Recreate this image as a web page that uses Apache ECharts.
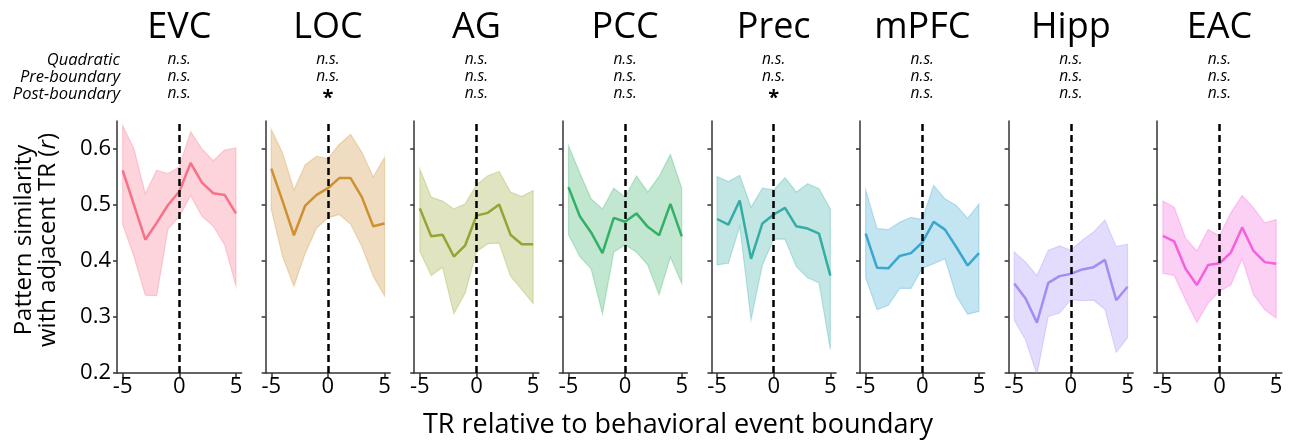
<!DOCTYPE html>
<html>
<head>
<meta charset="utf-8">
<script src="https://cdn.jsdelivr.net/npm/echarts@6/dist/echarts.min.js"></script>
<style>
  html, body { margin: 0; padding: 0; background: #fff; }
  #chart { width: 1302px; height: 442px; }
</style>
</head>
<body>
<div id="chart"></div>
<script>
const regions = ['EVC', 'LOC', 'AG', 'PCC', 'Prec', 'mPFC', 'Hipp', 'EAC'];
const trs = [-5, -4, -3, -2, -1, 0, 1, 2, 3, 4, 5];

// mean pattern similarity per TR, and the band edges
const evcMean  = [0.562, 0.500, 0.438, 0.468, 0.500, 0.524, 0.575, 0.540, 0.521, 0.518, 0.485];
const evcLower = [0.465, 0.408, 0.339, 0.338, 0.457, 0.479, 0.517, 0.480, 0.462, 0.429, 0.356];
const evcUpper = [0.642, 0.600, 0.520, 0.562, 0.556, 0.568, 0.631, 0.600, 0.579, 0.598, 0.602];

const locMean  = [0.565, 0.507, 0.446, 0.499, 0.518, 0.530, 0.548, 0.548, 0.514, 0.462, 0.467];
const locLower = [0.492, 0.408, 0.355, 0.414, 0.459, 0.477, 0.483, 0.466, 0.426, 0.373, 0.338];
const locUpper = [0.635, 0.593, 0.527, 0.572, 0.587, 0.583, 0.608, 0.626, 0.594, 0.550, 0.585];

const agMean  = [0.494, 0.444, 0.447, 0.408, 0.428, 0.481, 0.486, 0.501, 0.447, 0.430, 0.430];
const agLower = [0.417, 0.374, 0.389, 0.306, 0.343, 0.417, 0.431, 0.432, 0.373, 0.349, 0.324];
const agUpper = [0.564, 0.514, 0.507, 0.493, 0.502, 0.536, 0.552, 0.560, 0.523, 0.515, 0.526];

const pccMean  = [0.532, 0.480, 0.451, 0.414, 0.477, 0.470, 0.485, 0.461, 0.446, 0.502, 0.444];
const pccLower = [0.447, 0.408, 0.386, 0.306, 0.416, 0.429, 0.416, 0.393, 0.340, 0.407, 0.360];
const pccUpper = [0.606, 0.557, 0.511, 0.493, 0.530, 0.514, 0.552, 0.523, 0.551, 0.590, 0.530];

const precMean  = [0.475, 0.465, 0.508, 0.404, 0.467, 0.483, 0.495, 0.462, 0.458, 0.449, 0.374];
const precLower = [0.393, 0.396, 0.462, 0.295, 0.393, 0.439, 0.439, 0.390, 0.370, 0.361, 0.242];
const precUpper = [0.551, 0.542, 0.553, 0.496, 0.530, 0.527, 0.549, 0.523, 0.538, 0.529, 0.493];

const mpfcMean  = [0.449, 0.388, 0.387, 0.409, 0.414, 0.433, 0.470, 0.456, 0.425, 0.392, 0.414];
const mpfcLower = [0.370, 0.313, 0.321, 0.351, 0.351, 0.387, 0.395, 0.404, 0.338, 0.305, 0.310];
const mpfcUpper = [0.527, 0.458, 0.456, 0.469, 0.478, 0.474, 0.535, 0.511, 0.499, 0.476, 0.502];

const hippMean  = [0.360, 0.333, 0.290, 0.361, 0.373, 0.377, 0.385, 0.389, 0.402, 0.330, 0.354];
const hippLower = [0.294, 0.259, 0.197, 0.301, 0.307, 0.331, 0.329, 0.330, 0.314, 0.237, 0.263];
const hippUpper = [0.416, 0.398, 0.374, 0.419, 0.427, 0.419, 0.437, 0.452, 0.473, 0.426, 0.430];

const eacMean  = [0.445, 0.435, 0.386, 0.357, 0.393, 0.396, 0.415, 0.460, 0.418, 0.398, 0.395];
const eacLower = [0.378, 0.374, 0.331, 0.290, 0.325, 0.346, 0.357, 0.404, 0.340, 0.313, 0.298];
const eacUpper = [0.507, 0.496, 0.441, 0.418, 0.456, 0.445, 0.486, 0.517, 0.495, 0.468, 0.474];

const means  = [evcMean, locMean, agMean, pccMean, precMean, mpfcMean, hippMean, eacMean];
const lowers = [evcLower, locLower, agLower, pccLower, precLower, mpfcLower, hippLower, eacLower];
const uppers = [evcUpper, locUpper, agUpper, pccUpper, precUpper, mpfcUpper, hippUpper, eacUpper];

// significance rows
const rowNames = ['Quadratic', 'Pre-boundary', 'Post-boundary'];
const quadratic    = ['n.s.', 'n.s.', 'n.s.', 'n.s.', 'n.s.', 'n.s.', 'n.s.', 'n.s.'];
const preBoundary  = ['n.s.', 'n.s.', 'n.s.', 'n.s.', 'n.s.', 'n.s.', 'n.s.', 'n.s.'];
const postBoundary = ['n.s.', '*', 'n.s.', 'n.s.', '*', 'n.s.', 'n.s.', 'n.s.'];

const colors = ['#f77189', '#ce9032', '#97a431', '#32b166', '#36ada4', '#39a7d0', '#a48cf4', '#f561dd'];

const xTicks = [-5, 0, 5];
const yTicks = [0.2, 0.3, 0.4, 0.5, 0.6];

const FONT = '"Open Sans", "DejaVu Sans", sans-serif';
const panelLeft = 117, panelStep = 148.6, panelWidth = 124.6;
const gridTop = 121, gridHeight = 252;

function hexToRgba(hex, a) {
  const n = parseInt(hex.slice(1), 16);
  return 'rgba(' + (n >> 16) + ',' + ((n >> 8) & 255) + ',' + (n & 255) + ',' + a + ')';
}

// whole band as one polygon, drawn once from all rows of the series data
function renderBand(color) {
  return function (params, api) {
    if (params.dataIndexInside !== 0) return null;
    const n = params.dataInsideLength;
    const top = [], bottom = [];
    for (let k = 0; k < n; k++) {
      const t = api.value(0, k);
      top.push(api.coord([t, api.value(2, k)]));
      bottom.push(api.coord([t, api.value(1, k)]));
    }
    const pts = top.concat(bottom.reverse());
    return {
      type: 'polygon',
      shape: { points: pts },
      style: { fill: hexToRgba(color, 0.3), stroke: hexToRgba(color, 0.3), lineWidth: 1.2 }
    };
  };
}

const grids = [], xAxes = [], yAxes = [], series = [], graphics = [];
const axisColor = '#333';

regions.forEach((name, i) => {
  const left = panelLeft + i * panelStep;
  grids.push({ left: left, top: gridTop, width: panelWidth, height: gridHeight });
  xAxes.push({
    type: 'value', gridIndex: i, min: -5.5, max: 5.5,
    axisLine: { onZero: false, lineStyle: { color: axisColor, width: 1.5 } },
    axisTick: { customValues: xTicks, length: 5, lineStyle: { color: axisColor, width: 1.5 } },
    axisLabel: { customValues: xTicks, fontSize: 22, color: '#000', margin: 3, fontFamily: FONT },
    splitLine: { show: false }
  });
  yAxes.push({
    type: 'value', gridIndex: i, min: 0.2, max: 0.65,
    axisLine: { show: true, onZero: false, lineStyle: { color: axisColor, width: 1.5 } },
    axisTick: { show: true, customValues: yTicks, length: 4, lineStyle: { color: axisColor, width: 1.5 } },
    axisLabel: {
      show: i === 0, customValues: yTicks, fontSize: 22, color: '#000', margin: 6, fontFamily: FONT,
      formatter: v => v.toFixed(1)
    },
    splitLine: { show: false }
  });

  const c = colors[i];
  const lo = lowers[i], hi = uppers[i], mu = means[i];
  series.push({
    type: 'custom', xAxisIndex: i, yAxisIndex: i, silent: true, clip: true,
    data: trs.map((t, k) => [t, lo[k], hi[k]]),
    renderItem: renderBand(c),
    z: 1
  });
  series.push({
    type: 'line', xAxisIndex: i, yAxisIndex: i, symbol: 'none', silent: true,
    data: trs.map((t, k) => [t, mu[k]]),
    lineStyle: { color: c, width: 2.5 },
    z: 3,
    markLine: {
      silent: true, symbol: ['none', 'none'], label: { show: false },
      lineStyle: { color: '#000', width: 2.5, type: [7, 4] },
      data: [{ xAxis: 0 }]
    }
  });

  // region title and significance marks, centred on TR 0
  const cx = left + panelWidth / 2;
  graphics.push({
    type: 'text', x: cx, y: 28,
    style: { text: name, fontSize: 36, fontFamily: FONT, fill: '#000', textAlign: 'center', textVerticalAlign: 'middle' }
  });
  [quadratic, preBoundary, postBoundary].forEach((row, r) => {
    const star = row[i] === '*';
    graphics.push({
      type: 'text', x: cx, y: 60 + r * 17 + (star ? 4 : 0),
      style: {
        text: row[i], fontSize: star ? 20 : 15.5, fontStyle: star ? 'normal' : 'italic',
        fontWeight: star ? 'bold' : 'normal',
        fontFamily: FONT, fill: '#000', textAlign: 'center', textVerticalAlign: 'middle'
      }
    });
  });
});

rowNames.forEach((t, r) => {
  graphics.push({
    type: 'text', x: 120, y: 60 + r * 17,
    style: { text: t, fontSize: 16.5, fontStyle: 'italic', fontFamily: FONT, fill: '#000', textAlign: 'right', textVerticalAlign: 'middle' }
  });
});

graphics.push({
  type: 'text', x: 36, y: 240, rotation: Math.PI / 2,
  style: {
    text: 'Pattern similarity\nwith adjacent TR ({i|r})',
    fontSize: 24, lineHeight: 24, fontFamily: FONT, fill: '#000',
    textAlign: 'center', textVerticalAlign: 'middle',
    rich: { i: { fontStyle: 'italic', fontSize: 24, fontFamily: FONT } }
  }
});
graphics.push({
  type: 'text', x: 678, y: 425,
  style: { text: 'TR relative to behavioral event boundary', fontSize: 27, fontFamily: FONT, fill: '#000', textAlign: 'center', textVerticalAlign: 'middle' }
});

const chart = echarts.init(document.getElementById('chart'), null, { renderer: 'canvas' });
chart.setOption({
  animation: false,
  backgroundColor: '#fff',
  grid: grids,
  xAxis: xAxes,
  yAxis: yAxes,
  series: series,
  graphic: graphics
});
</script>
</body>
</html>
